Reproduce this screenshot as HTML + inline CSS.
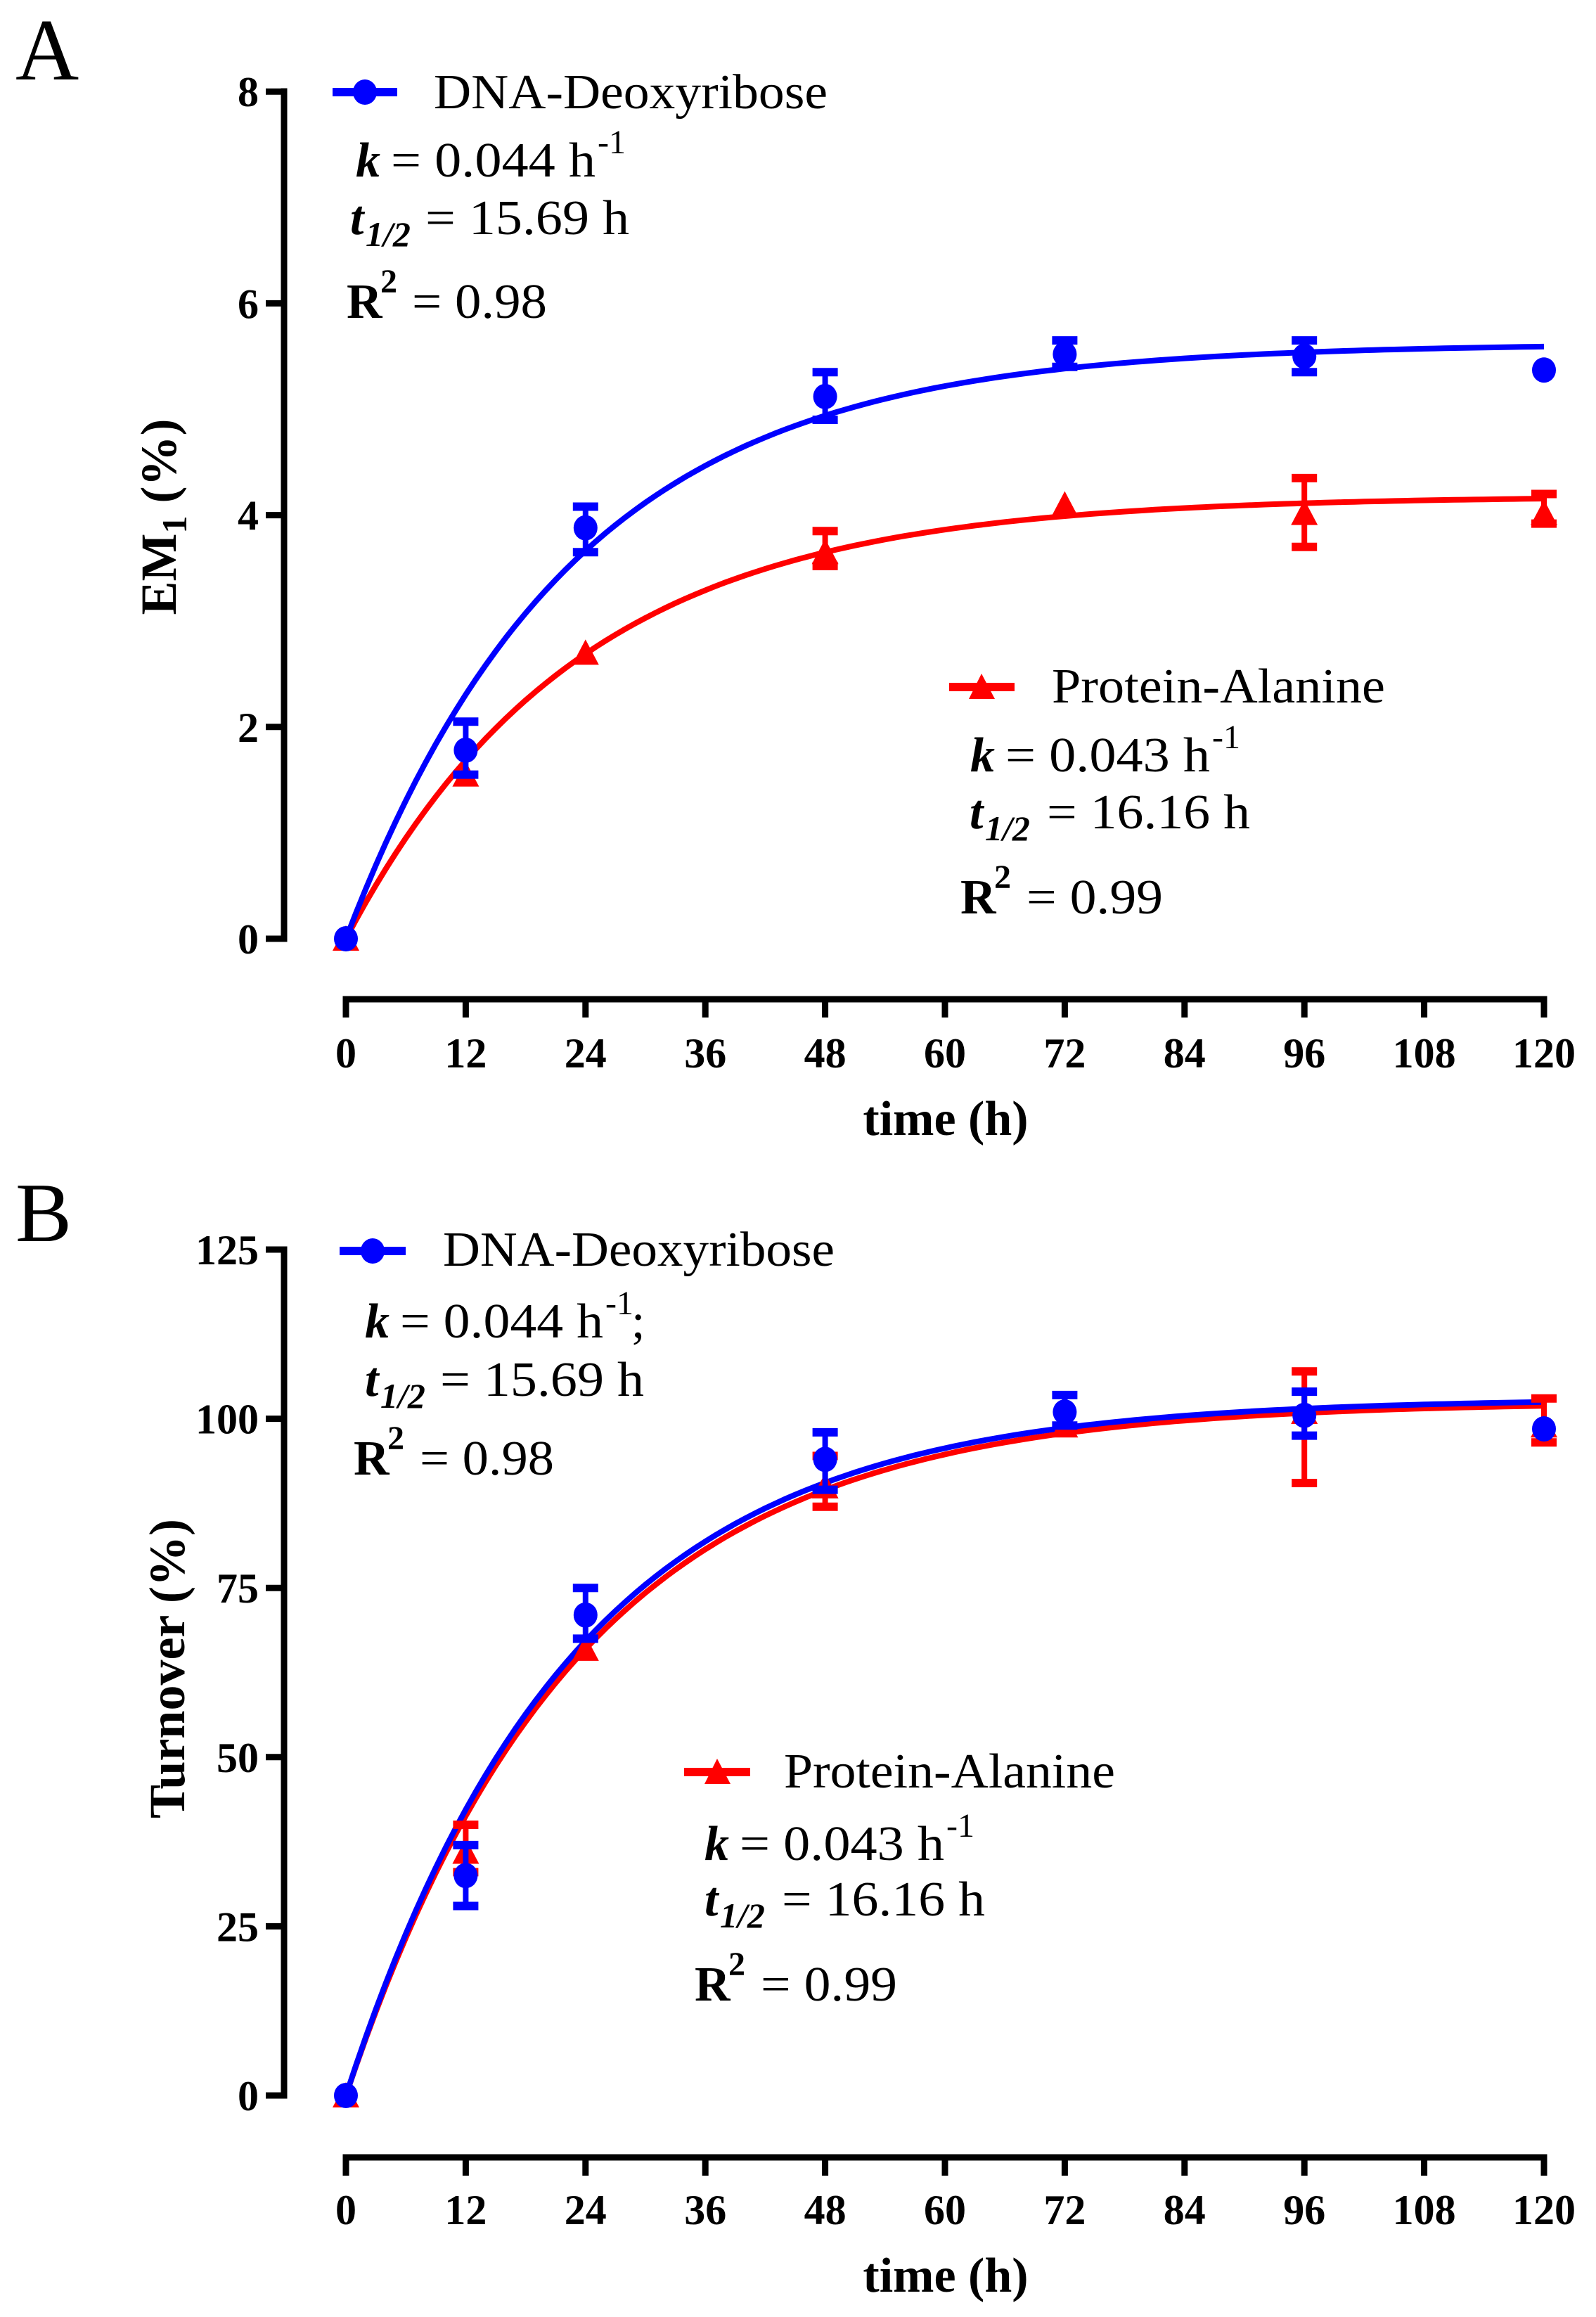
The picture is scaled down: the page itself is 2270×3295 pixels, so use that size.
<!DOCTYPE html>
<html><head><meta charset="utf-8"><style>
html,body{margin:0;padding:0;background:#fff;}
svg{display:block;}
text,tspan{font-family:"Liberation Serif","Times New Roman",serif;}
</style></head><body>
<svg id="s" width="2270" height="3295" viewBox="0 0 2270 3295" xmlns="http://www.w3.org/2000/svg" font-family="Liberation Serif, serif">
<rect width="2270" height="3295" fill="#fff"/>
<text x="22" y="113" font-size="125">A</text>
<text x="22" y="1765" font-size="120">B</text>

<line x1="473" y1="131" x2="565" y2="131" stroke="#0000ff" stroke-width="12"/>
<ellipse cx="519" cy="131" rx="17" ry="18" fill="#0000ff"/>
<text x="617" y="154" font-size="70" textLength="560" lengthAdjust="spacingAndGlyphs">DNA-Deoxyribose</text>
<text x="506" y="251" font-size="70" font-weight="bold" font-style="italic">k</text>
<text x="556" y="251" font-size="70" textLength="291" lengthAdjust="spacingAndGlyphs">= 0.044 h</text>
<text x="850" y="218" font-size="48">-1</text>
<text x="498" y="333" font-size="70" font-weight="bold" font-style="italic">t</text>
<text x="520" y="350" font-size="50" font-weight="bold" font-style="italic">1/2</text>
<text x="605" y="333" font-size="70" textLength="290" lengthAdjust="spacingAndGlyphs">= 15.69 h</text>
<text x="493" y="452" font-size="70" font-weight="bold">R</text>
<text x="541" y="416" font-size="48" font-weight="bold">2</text>
<text x="586" y="452" font-size="70" textLength="192" lengthAdjust="spacingAndGlyphs">= 0.98</text>

<line x1="1350" y1="977" x2="1443" y2="977" stroke="#ff0000" stroke-width="12"/>
<polygon points="1396,958 1378,994 1415,994" fill="#ff0000"/>
<text x="1496" y="999" font-size="70" textLength="474" lengthAdjust="spacingAndGlyphs">Protein-Alanine</text>
<text x="1380" y="1097" font-size="70" font-weight="bold" font-style="italic">k</text>
<text x="1430" y="1097" font-size="70" textLength="291" lengthAdjust="spacingAndGlyphs">= 0.043 h</text>
<text x="1724" y="1064" font-size="48">-1</text>
<text x="1379" y="1178" font-size="70" font-weight="bold" font-style="italic">t</text>
<text x="1401" y="1195" font-size="50" font-weight="bold" font-style="italic">1/2</text>
<text x="1489" y="1178" font-size="70" textLength="289" lengthAdjust="spacingAndGlyphs">= 16.16 h</text>
<text x="1366" y="1299" font-size="70" font-weight="bold">R</text>
<text x="1414" y="1263" font-size="48" font-weight="bold">2</text>
<text x="1460" y="1299" font-size="70" textLength="194" lengthAdjust="spacingAndGlyphs">= 0.99</text>

<line x1="483" y1="1779" x2="577" y2="1779" stroke="#0000ff" stroke-width="12"/>
<ellipse cx="530" cy="1779" rx="17" ry="18" fill="#0000ff"/>
<text x="630" y="1800" font-size="70" textLength="557" lengthAdjust="spacingAndGlyphs">DNA-Deoxyribose</text>
<text x="519" y="1902" font-size="70" font-weight="bold" font-style="italic">k</text>
<text x="569" y="1902" font-size="70" textLength="289" lengthAdjust="spacingAndGlyphs">= 0.044 h</text>
<text x="861" y="1869" font-size="48">-1</text>
<text x="898" y="1902" font-size="70">;</text>
<text x="519" y="1985" font-size="70" font-weight="bold" font-style="italic">t</text>
<text x="541" y="2002" font-size="50" font-weight="bold" font-style="italic">1/2</text>
<text x="626" y="1985" font-size="70" textLength="290" lengthAdjust="spacingAndGlyphs">= 15.69 h</text>
<text x="503" y="2097" font-size="70" font-weight="bold">R</text>
<text x="551" y="2061" font-size="48" font-weight="bold">2</text>
<text x="597" y="2097" font-size="70" textLength="191" lengthAdjust="spacingAndGlyphs">= 0.98</text>

<line x1="973" y1="2520" x2="1067" y2="2520" stroke="#ff0000" stroke-width="12"/>
<polygon points="1020,2501 1002,2537 1039,2537" fill="#ff0000"/>
<text x="1115" y="2542" font-size="70" textLength="471" lengthAdjust="spacingAndGlyphs">Protein-Alanine</text>
<text x="1002" y="2645" font-size="70" font-weight="bold" font-style="italic">k</text>
<text x="1052" y="2645" font-size="70" textLength="291" lengthAdjust="spacingAndGlyphs">= 0.043 h</text>
<text x="1346" y="2612" font-size="48">-1</text>
<text x="1002" y="2724" font-size="70" font-weight="bold" font-style="italic">t</text>
<text x="1024" y="2741" font-size="50" font-weight="bold" font-style="italic">1/2</text>
<text x="1112" y="2724" font-size="70" textLength="289" lengthAdjust="spacingAndGlyphs">= 16.16 h</text>
<text x="988" y="2845" font-size="70" font-weight="bold">R</text>
<text x="1036" y="2809" font-size="48" font-weight="bold">2</text>
<text x="1082" y="2845" font-size="70" textLength="194" lengthAdjust="spacingAndGlyphs">= 0.99</text>

<text x="1345" y="1614" font-size="70" font-weight="bold" text-anchor="middle">time (h)</text>
<text x="1345" y="3259" font-size="70" font-weight="bold" text-anchor="middle">time (h)</text>
<text transform="translate(250,735) rotate(-90)" font-size="72" font-weight="bold" text-anchor="middle">EM<tspan font-size="50" dy="15">1</tspan><tspan dy="-15"> (%)</tspan></text>
<text transform="translate(262,2373) rotate(-90)" font-size="72" font-weight="bold" text-anchor="middle">Turnover (%)</text>
<g id="g"></g>
</svg>
<script>
var g=document.getElementById('g'),NS="http://www.w3.org/2000/svg";
function el(t,a){var e=document.createElementNS(NS,t);for(var k in a)e.setAttribute(k,a[k]);g.appendChild(e);return e;}
function X(t){return 492+t*170.4/12;}
function panel(y0,yTop,ticks,unit,axY,labY,series){
  el('line',{x1:404,y1:yTop-4.5,x2:404,y2:y0+4.5,stroke:'#000','stroke-width':9});
  ticks.forEach(function(v){var y=y0-v*unit;el('line',{x1:378,y1:y,x2:408,y2:y,stroke:'#000','stroke-width':9});
    var t=el('text',{x:368,y:y+21,'font-size':60,'font-weight':'bold','text-anchor':'end'});t.textContent=v;});
  el('line',{x1:X(0)-4.5,y1:axY,x2:X(120)+4.5,y2:axY,stroke:'#000','stroke-width':9});
  for(var t=0;t<=120;t+=12){el('line',{x1:X(t),y1:axY,x2:X(t),y2:axY+26,stroke:'#000','stroke-width':9});
    var tx=el('text',{x:X(t),y:labY,'font-size':60,'font-weight':'bold','text-anchor':'middle'});tx.textContent=t;}
  series.forEach(function(s){
    var d='';for(var t=0;t<=120;t+=1){var y=s.p*(1-Math.exp(-s.k*t));d+=(t?'L':'M')+X(t).toFixed(1)+','+(y0-y*unit).toFixed(1);}
    el('path',{d:d,fill:'none',stroke:s.c,'stroke-width':8});
  });
  series.forEach(function(s){
    s.pts.forEach(function(p){var x=X(p[0]),y=y0-p[1]*unit;
      if(p.length>2){var a=y0-p[2]*unit,b=y0-p[3]*unit;
        el('line',{x1:x,y1:a,x2:x,y2:b,stroke:s.c,'stroke-width':8});
        el('line',{x1:x-18,y1:a,x2:x+18,y2:a,stroke:s.c,'stroke-width':12});
        el('line',{x1:x-18,y1:b,x2:x+18,y2:b,stroke:s.c,'stroke-width':12});}
      if(s.m=='c')el('ellipse',{cx:x,cy:y,rx:17,ry:18,fill:s.c});
      else el('polygon',{points:x+','+(y-19)+' '+(x-19)+','+(y+17)+' '+(x+19)+','+(y+17),fill:s.c});
    });
  });
}
panel(1335,130,[0,2,4,6,8],150.6,1421,1518,[
 {c:'#ff0000',m:'t',p:4.18,k:0.043,pts:[[0,0],[12,1.55],[24,2.7],[48,3.65,3.52,3.85],[72,4.1],[96,4.02,3.7,4.35],[120,4.02,3.92,4.2]]},
 {c:'#0000ff',m:'c',p:5.62,k:0.044,pts:[[0,0],[12,1.78,1.55,2.05],[24,3.88,3.65,4.08],[48,5.12,4.9,5.35],[72,5.52,5.4,5.65],[96,5.5,5.35,5.65],[120,5.37]]}
]);
panel(2980,1777,[0,25,50,75,100,125],9.624,3068,3163,[
 {c:'#ff0000',m:'t',p:102.5,k:0.043,pts:[[0,0],[12,36,33,40],[24,66],[48,90,87,94.5],[72,99],[96,101,90.5,107],[120,99,96.5,103]]},
 {c:'#0000ff',m:'c',p:103,k:0.044,pts:[[0,0],[12,32.5,28,37],[24,71,67.5,75],[48,94,89.5,98],[72,101,99,103.5],[96,100.5,97.5,104],[120,98.5]]}
]);
</script>
</body></html>
